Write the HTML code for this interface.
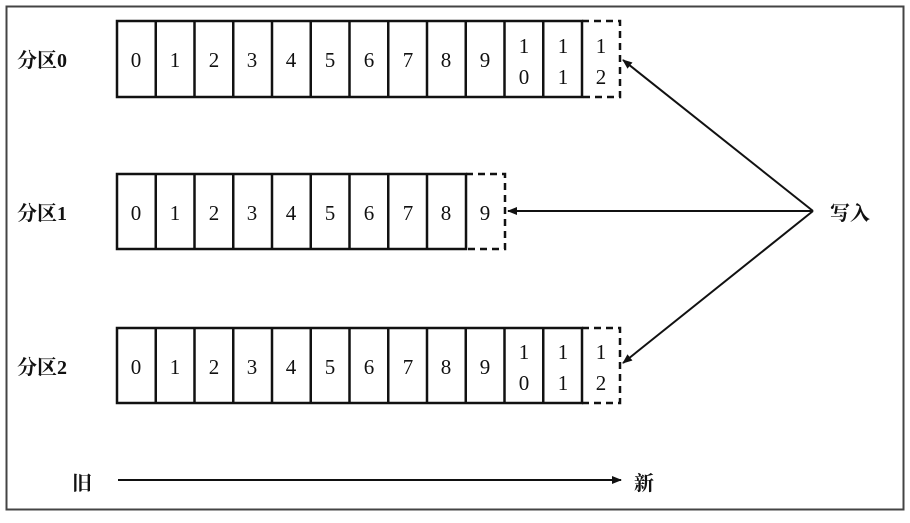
<!DOCTYPE html>
<html><head><meta charset="utf-8"><style>
body{margin:0;background:#fff;}
svg text{font-family:"Liberation Serif","Noto Serif CJK SC",serif;fill:#111;}
</style></head><body>
<svg width="910" height="518" viewBox="0 0 910 518" xmlns="http://www.w3.org/2000/svg">
<defs><marker id="a" markerWidth="10" markerHeight="8" refX="9" refY="4" orient="auto" markerUnits="userSpaceOnUse"><path d="M0,0 L10,4 L0,8 z" fill="#111"/></marker></defs>
<rect x="6.5" y="6.5" width="897" height="503" fill="none" stroke="#444" stroke-width="2"/>
<g font-size="20" font-weight="bold">
<text x="17" y="67">分区0</text>
<text x="17" y="220">分区1</text>
<text x="17" y="374">分区2</text>
<text x="830" y="220">写入</text>
<text x="72" y="490">旧</text>
<text x="634" y="490">新</text>
</g>
<g stroke="#111" stroke-width="2.5" fill="none">
<rect x="117" y="21" width="465" height="76"/>
<rect x="117" y="174" width="349" height="75"/>
<rect x="117" y="328" width="465" height="75"/>
<path d="M155.75,21V97M194.5,21V97M233.25,21V97M272,21V97M310.75,21V97M349.5,21V97M388.25,21V97M427,21V97M465.75,21V97M504.5,21V97M543.25,21V97"/>
<path d="M155.75,174V249M194.5,174V249M233.25,174V249M272,174V249M310.75,174V249M349.5,174V249M388.25,174V249M427,174V249"/>
<path d="M155.75,328V403M194.5,328V403M233.25,328V403M272,328V403M310.75,328V403M349.5,328V403M388.25,328V403M427,328V403M465.75,328V403M504.5,328V403M543.25,328V403"/>
</g>
<g stroke="#111" stroke-width="2.5" fill="none" stroke-dasharray="7,5">
<path d="M582,21H620V97H582"/>
<path d="M466,174H505V249H466"/>
<path d="M582,328H620V403H582"/>
</g>
<g stroke="#111" stroke-width="2" fill="none" marker-end="url(#a)">
<line x1="813" y1="211" x2="623" y2="60"/>
<line x1="813" y1="211" x2="508" y2="211"/>
<line x1="813" y1="211" x2="623" y2="363"/>
<line x1="118" y1="480" x2="621" y2="480"/>
</g>
<g font-size="21" text-anchor="middle">
<text x="136" y="67">0</text><text x="175" y="67">1</text><text x="214" y="67">2</text><text x="252" y="67">3</text><text x="291" y="67">4</text><text x="330" y="67">5</text><text x="369" y="67">6</text><text x="408" y="67">7</text><text x="446" y="67">8</text><text x="485" y="67">9</text>
<text x="524" y="53">1</text><text x="524" y="84">0</text><text x="563" y="53">1</text><text x="563" y="84">1</text><text x="601" y="53">1</text><text x="601" y="84">2</text>
<text x="136" y="220">0</text><text x="175" y="220">1</text><text x="214" y="220">2</text><text x="252" y="220">3</text><text x="291" y="220">4</text><text x="330" y="220">5</text><text x="369" y="220">6</text><text x="408" y="220">7</text><text x="446" y="220">8</text><text x="485" y="220">9</text>
<text x="136" y="374">0</text><text x="175" y="374">1</text><text x="214" y="374">2</text><text x="252" y="374">3</text><text x="291" y="374">4</text><text x="330" y="374">5</text><text x="369" y="374">6</text><text x="408" y="374">7</text><text x="446" y="374">8</text><text x="485" y="374">9</text>
<text x="524" y="359">1</text><text x="524" y="390">0</text><text x="563" y="359">1</text><text x="563" y="390">1</text><text x="601" y="359">1</text><text x="601" y="390">2</text>
</g>
</svg>
</body></html>
